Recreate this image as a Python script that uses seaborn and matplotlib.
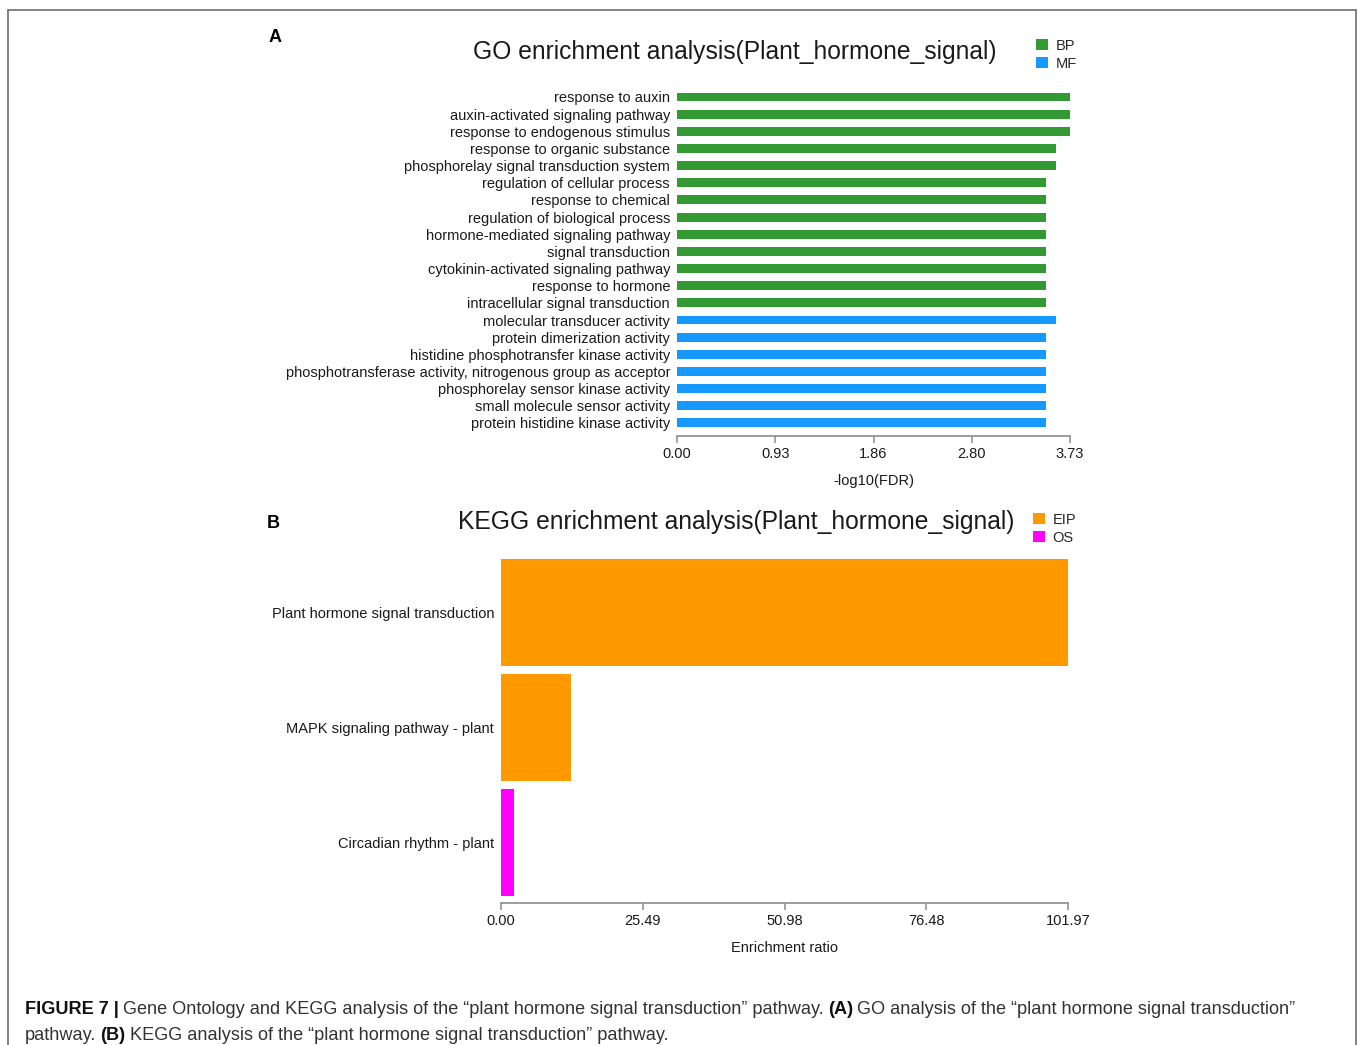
import matplotlib
matplotlib.use("Agg")
import matplotlib.pyplot as plt
import seaborn as sns
import pandas as pd
from matplotlib.patches import Patch
from matplotlib.lines import Line2D
from matplotlib.offsetbox import TextArea, HPacker, VPacker, AnchoredOffsetbox

sns.set_theme(style="white")
plt.rcParams["font.family"] = ["Liberation Sans", "DejaVu Sans"]

# ---- GO enrichment data ----
go_terms = [
    "response to auxin",
    "auxin-activated signaling pathway",
    "response to endogenous stimulus",
    "response to organic substance",
    "phosphorelay signal transduction system",
    "regulation of cellular process",
    "response to chemical",
    "regulation of biological process",
    "hormone-mediated signaling pathway",
    "signal transduction",
    "cytokinin-activated signaling pathway",
    "response to hormone",
    "intracellular signal transduction",
    "molecular transducer activity",
    "protein dimerization activity",
    "histidine phosphotransfer kinase activity",
    "phosphotransferase activity, nitrogenous group as acceptor",
    "phosphorelay sensor kinase activity",
    "small molecule sensor activity",
    "protein histidine kinase activity",
]
go_class = ["BP"] * 13 + ["MF"] * 7
go_values = [3.73, 3.73, 3.73, 3.60, 3.60, 3.50, 3.50, 3.50, 3.50, 3.50,
             3.50, 3.50, 3.50, 3.60, 3.50, 3.50, 3.50, 3.50, 3.50, 3.50]
go_ticks = [0.0, 0.9325, 1.865, 2.7975, 3.73]
go_tick_labels = ["0.00", "0.93", "1.86", "2.80", "3.73"]
go_colors = {"BP": "#339933", "MF": "#1598FF"}

# ---- KEGG enrichment data ----
kegg_terms = [
    "Plant hormone signal transduction",
    "MAPK signaling pathway - plant",
    "Circadian rhythm - plant",
]
kegg_class = ["EIP", "EIP", "OS"]
kegg_values = [101.97, 12.6, 2.4]
kegg_ticks = [0.0, 25.4925, 50.985, 76.4775, 101.97]
kegg_tick_labels = ["0.00", "25.49", "50.98", "76.48", "101.97"]
kegg_colors = {"EIP": "#FF9900", "OS": "#FF00FF"}

go_df = pd.DataFrame({"term": go_terms, "cls": go_class, "value": go_values})
kegg_df = pd.DataFrame({"term": kegg_terms, "cls": kegg_class, "value": kegg_values})

W, H = 1358, 1045
fig = plt.figure(figsize=(W / 100, H / 100), dpi=100)
fig.patch.set_facecolor("white")


def fx(px):
    return px / W


def fy(py):
    return 1 - py / H


TEXT = "#1a1a1a"
AXIS = "#8c8c8c"


def style_axis(ax, ticks, labels, xlabel, ylabel_size):
    for side in ("top", "right", "left"):
        ax.spines[side].set_visible(False)
    ax.spines["bottom"].set_color(AXIS)
    ax.spines["bottom"].set_linewidth(1.2)
    ax.set_xticks(ticks)
    ax.set_xticklabels(labels)
    ax.tick_params(axis="x", direction="out", length=5, width=1.1, color=AXIS,
                   labelsize=10.5, labelcolor=TEXT, pad=3, bottom=True)
    ax.tick_params(axis="y", length=0, labelsize=ylabel_size, labelcolor=TEXT, pad=5)
    ax.set_ylabel("")
    ax.set_xlabel(xlabel, fontsize=10.5, color=TEXT, labelpad=9)
    ax.grid(False)
    ax.set_facecolor("white")


# ---- Panel A: GO ----
ax1 = fig.add_axes([fx(677), fy(436), fx(1070) - fx(677), (436 - 88.4) / H])
sns.barplot(data=go_df, x="value", y="term", hue="cls", order=go_terms,
            hue_order=["BP", "MF"], palette=go_colors, dodge=False, width=0.52,
            saturation=1, linewidth=0, legend=False, ax=ax1)
ax1.set_xlim(0, 3.73)
ax1.set_ylim(19.76, -0.5)
style_axis(ax1, go_ticks, go_tick_labels, "-log10(FDR)", 10.5)

fig.text(fx(735), fy(51.5), "GO enrichment analysis(Plant_hormone_signal)",
         ha="center", va="center", fontsize=17.7, color=TEXT)
fig.text(fx(275), fy(38), "A", ha="center", va="center", fontsize=13,
         fontweight="bold", color="black")
fig.legend(handles=[Patch(facecolor=go_colors[k], edgecolor="none", label=k) for k in ["BP", "MF"]],
           loc="upper left", bbox_to_anchor=(fx(1036), fy(38.5)), frameon=False,
           handlelength=0.8, handleheight=0.8, handletextpad=0.55, labelspacing=0.3,
           borderpad=0, borderaxespad=0, fontsize=10.5)

# ---- Panel B: KEGG ----
ax2 = fig.add_axes([fx(501), fy(903), fx(1068) - fx(501), (903 - 559) / H])
sns.barplot(data=kegg_df, x="value", y="term", hue="cls", order=kegg_terms,
            hue_order=["EIP", "OS"], palette=kegg_colors, dodge=False, width=0.93,
            saturation=1, linewidth=0, legend=False, ax=ax2)
ax2.set_xlim(0, 101.97)
ax2.set_ylim(2.525, -0.465)
style_axis(ax2, kegg_ticks, kegg_tick_labels, "Enrichment ratio", 10.5)

fig.text(fx(736), fy(522.5), "KEGG enrichment analysis(Plant_hormone_signal)",
         ha="center", va="center", fontsize=17.7, color=TEXT)
fig.text(fx(273), fy(524), "B", ha="center", va="center", fontsize=13,
         fontweight="bold", color="black")
fig.legend(handles=[Patch(facecolor=kegg_colors[k], edgecolor="none", label=k) for k in ["EIP", "OS"]],
           loc="upper left", bbox_to_anchor=(fx(1033), fy(512.5)), frameon=False,
           handlelength=0.8, handleheight=0.8, handletextpad=0.55, labelspacing=0.3,
           borderpad=0, borderaxespad=0, fontsize=10.5)

# ---- frame around the figure panels ----
frame_kw = dict(color="#6e6e6e", linewidth=1.2, transform=fig.transFigure)
fig.add_artist(Line2D([fx(8), fx(8)], [fy(10), 0], **frame_kw))
fig.add_artist(Line2D([fx(1356), fx(1356)], [fy(10), 0], **frame_kw))
fig.add_artist(Line2D([fx(8), fx(1356)], [fy(10), fy(10)], **frame_kw))

# ---- caption ----
cap_family = ["Liberation Sans", "DejaVu Sans"]
cap_size = 13.1
reg = dict(fontsize=cap_size, color="#333333", family=cap_family)
bold = dict(fontsize=cap_size, color="#111111", family=cap_family, fontweight="bold")


def piece(s, props):
    return TextArea(s, textprops=props)


gap = 3.0
line1 = HPacker(children=[
    piece("FIGURE 7 |", bold),
    piece("Gene Ontology and KEGG analysis of the \u201cplant hormone signal transduction\u201d pathway.", reg),
    piece("(A)", bold),
    piece("GO analysis of the \u201cplant hormone signal transduction\u201d", reg),
], align="baseline", pad=0, sep=gap)
line2 = HPacker(children=[
    piece("pathway.", reg),
    piece("(B)", bold),
    piece("KEGG analysis of the \u201cplant hormone signal transduction\u201d pathway.", reg),
], align="baseline", pad=0, sep=gap)
caption = VPacker(children=[line1, line2], align="left", pad=0, sep=7.0)
fig.add_artist(AnchoredOffsetbox(loc="upper left", child=caption, pad=0, borderpad=0,
                                 frameon=False, bbox_to_anchor=(fx(25), fy(1000.5)),
                                 bbox_transform=fig.transFigure))

fig.savefig("out.png", dpi=100, facecolor="white")
